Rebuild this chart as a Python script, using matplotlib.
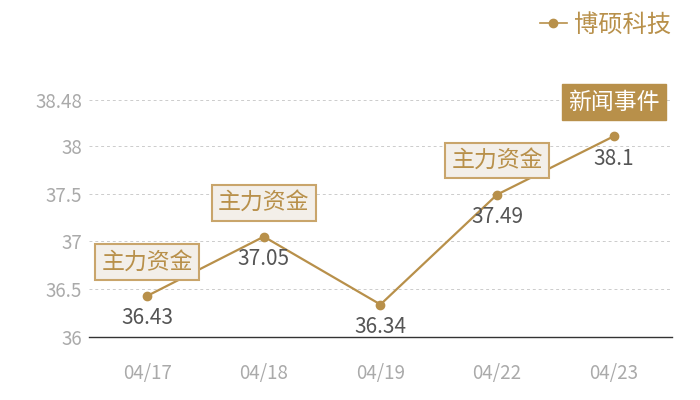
import matplotlib
matplotlib.use('Agg')
import matplotlib.pyplot as plt
from matplotlib.lines import Line2D

plt.rcParams['font.family'] = ['Noto Sans CJK SC', 'DejaVu Sans']

dates = ['04/17', '04/18', '04/19', '04/22', '04/23']
prices = [36.43, 37.05, 36.34, 37.49, 38.1]
events = ['主力资金', '主力资金', None, '主力资金', '新闻事件']
yticks = [36, 36.5, 37, 37.5, 38, 38.48]
series_name = '博硕科技'

gold = '#b8904a'

fig = plt.figure(figsize=(7, 4), dpi=100)
ax = fig.add_axes([0.127, 0.1575, 0.833, 0.5925])

x = list(range(len(dates)))
ax.plot(x, prices, color=gold, lw=1.6, marker='o', ms=6, zorder=3)

ax.set_xlim(-0.5, len(dates) - 0.5)
ax.set_ylim(36, 38.48)
ax.set_yticks(yticks)
ax.set_yticklabels([f'{t:g}' for t in yticks])
ax.set_xticks(x)
ax.set_xticklabels(dates)
ax.tick_params(axis='both', length=0, colors='#aaaaaa', labelsize=13.5)
ax.tick_params(axis='x', pad=19)
ax.tick_params(axis='y', pad=5)

ax.grid(axis='y', color='#cccccc', ls=(0, (3, 3)), lw=0.7)
for s in ['top', 'right', 'left']:
    ax.spines[s].set_visible(False)
ax.spines['bottom'].set_color('#333333')
ax.spines['bottom'].set_linewidth(1)

for xi, p in zip(x, prices):
    ax.annotate(f'{p:g}', (xi, p), xytext=(0, -16), textcoords='offset points',
                ha='center', va='center', fontsize=15, color='#555555')

for xi, p, ev in zip(x, prices, events):
    if ev is None:
        continue
    if ev == '新闻事件':
        box = dict(boxstyle='square,pad=0.28', fc=gold, ec=gold)
        tc = 'white'
    else:
        box = dict(boxstyle='square,pad=0.28', fc='#f3efe9', ec='#c9a56b', lw=1.5)
        tc = gold
    ax.annotate(ev, (xi, p), xytext=(0, 24.5), textcoords='offset points',
                ha='center', va='center', fontsize=16.5, color=tc, bbox=box,
                zorder=5, annotation_clip=False)

handle = Line2D([0], [0], color=gold, lw=1.2, marker='o', ms=6)
leg = fig.legend([handle], [series_name], loc='upper right', bbox_to_anchor=(0.99, 1.025),
                 frameon=False, fontsize=17.5, handlelength=1.1, handletextpad=0.3)
for t in leg.get_texts():
    t.set_color(gold)

fig.savefig('out.png', dpi=100)
